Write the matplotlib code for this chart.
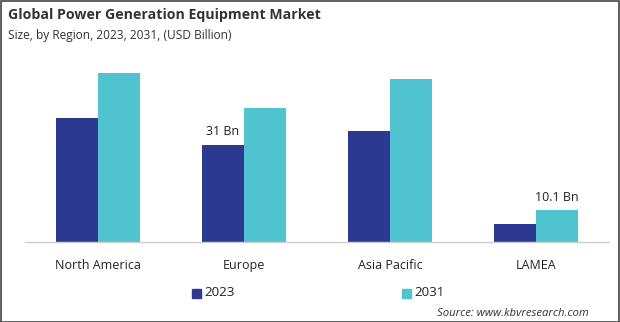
import matplotlib
matplotlib.use("Agg")
import matplotlib.pyplot as plt
import numpy as np
from matplotlib.patches import Rectangle

plt.rcParams['font.family'] = ['Open Sans', 'DejaVu Sans']

# data (USD Billion)
regions = ["North America", "Europe", "Asia Pacific", "LAMEA"]
years = ["2023", "2031"]
vals_2023 = [39.5, 31.0, 35.5, 5.8]
vals_2031 = [54.0, 43.0, 52.0, 10.1]
labels_2023 = ["", "31 Bn", "", ""]
labels_2031 = ["", "", "", "10.1 Bn"]

c23 = "#2b3990"
c31 = "#4fc3cf"

W, H = 620, 322
fig = plt.figure(figsize=(W / 100, H / 100), dpi=100)
ax = fig.add_axes([25 / W, 1 - 242 / H, 584 / W, 192 / H])

x = np.arange(len(regions))
bw = 0.288
ax.bar(x - bw / 2, vals_2023, bw, color=c23)
ax.bar(x + bw / 2, vals_2031, bw, color=c31)

for i in range(len(regions)):
    if labels_2023[i]:
        ax.text(x[i] - bw / 2, vals_2023[i] + 2.2, labels_2023[i], ha='center', va='bottom',
                fontsize=9, color='#222222')
    if labels_2031[i]:
        ax.text(x[i] + bw / 2, vals_2031[i] + 2.2, labels_2031[i], ha='center', va='bottom',
                fontsize=9, color='#222222')

ax.set_xlim(-0.5, 3.5)
ax.set_ylim(0, 61.4)
ax.set_yticks([])
ax.set_xticks(x)
ax.set_xticklabels(regions, fontsize=9, color='#222222')
ax.tick_params(axis='x', length=0, pad=12)
for s in ['top', 'right', 'left']:
    ax.spines[s].set_visible(False)
ax.spines['bottom'].set_color('#d0d0d0')
ax.spines['bottom'].set_linewidth(1)

# title
fig.text(8 / W, 1 - 15 / H, "Global Power Generation Equipment Market", fontsize=10.2,
         fontweight='bold', color='#333333', va='center', ha='left')
fig.text(8 / W, 1 - 35 / H, "Size, by Region, 2023, 2031, (USD Billion)", fontsize=8.6,
         color='#333333', va='center', ha='left')

# legend
for px, col, lab in [(192, c23, years[0]), (402, c31, years[1])]:
    fig.patches.append(Rectangle((px / W, 1 - 298 / H), 9 / W, 9 / H, transform=fig.transFigure,
                                 color=col))
    fig.text((px + 12) / W, 1 - 293 / H, lab, fontsize=9.6, color='#222222', va='center', ha='left')

fig.text(589 / W, 1 - 313 / H, "Source: www.kbvresearch.com", fontsize=8.2, style='italic',
         color='#333333', ha='right', va='center')

# border
fig.patches.append(Rectangle((0.5 / W, 0.5 / H), (W - 1.5) / W, (H - 1.5) / H,
                             transform=fig.transFigure, fill=False, edgecolor='#444444',
                             linewidth=1.2))

fig.savefig("out.png", dpi=100)
